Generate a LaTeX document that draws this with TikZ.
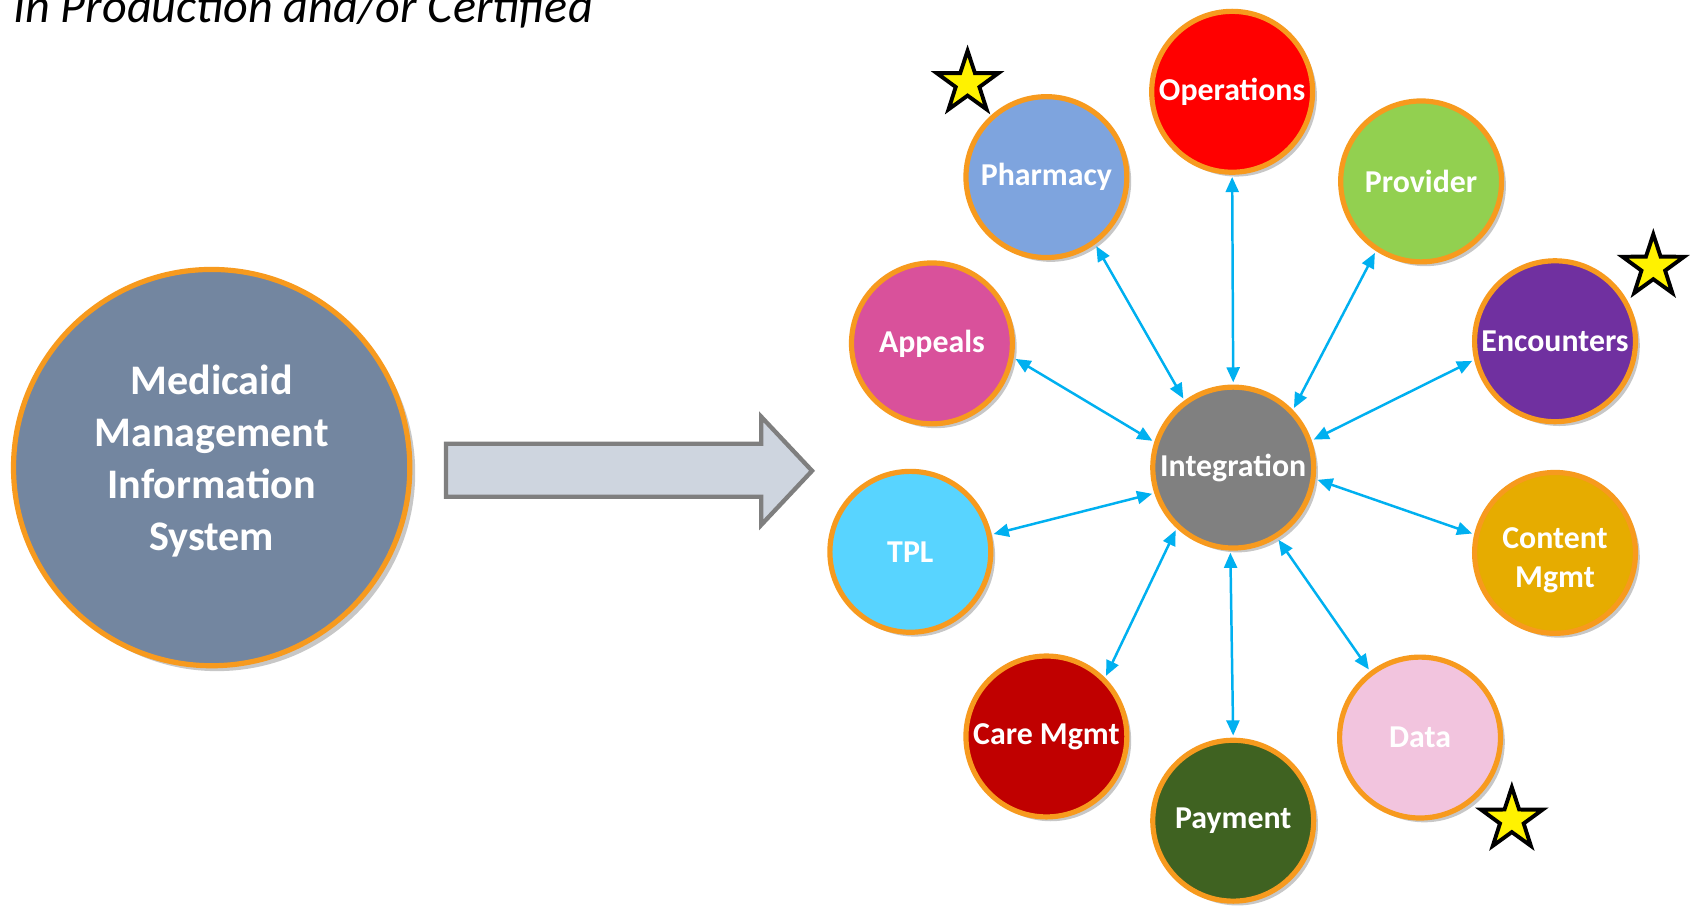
\documentclass[tikz,border=0pt]{standalone}
\usepackage{fontspec}
\setmainfont{Carlito}
\usetikzlibrary{arrows.meta,shapes.geometric,shadows}
\definecolor{ringc}{RGB}{247,154,30}
\definecolor{mmisc}{RGB}{115,134,160}
\definecolor{pharmc}{RGB}{126,164,222}
\definecolor{opsc}{RGB}{255,0,0}
\definecolor{provc}{RGB}{146,208,80}
\definecolor{appc}{RGB}{217,81,155}
\definecolor{encc}{RGB}{112,48,160}
\definecolor{intc}{RGB}{128,128,128}
\definecolor{tplc}{RGB}{88,212,255}
\definecolor{contc}{RGB}{230,172,0}
\definecolor{carec}{RGB}{192,0,0}
\definecolor{payc}{RGB}{63,98,33}
\definecolor{datac}{RGB}{242,196,222}
\definecolor{linkc}{RGB}{0,176,240}
\definecolor{bafill}{RGB}{206,213,223}
\definecolor{badraw}{RGB}{127,127,127}
\tikzset{
  satc/.style={circle, draw=ringc, line width=4.8pt, minimum size=149pt, inner sep=0pt,
    text=white, align=center, font=\bfseries\fontsize{29.5}{36}\selectfont,
    drop shadow={shadow xshift=4pt, shadow yshift=-4pt, opacity=0.22, fill=black}},
  sattext/.style={inner sep=0pt, text=white, align=center, font=\bfseries\fontsize{29.5}{36}\selectfont},
  bigc/.style={circle, draw=ringc, line width=4.8pt, minimum size=367pt, inner sep=0pt,
    fill=mmisc,
    drop shadow={shadow xshift=5pt, shadow yshift=-5pt, opacity=0.22, fill=black}},
  bigtext/.style={inner sep=0pt, text=white, align=center, font=\bfseries\fontsize{39}{48}\selectfont},
  link/.style={draw=linkc, line width=2.3pt,
    {Triangle[length=14pt,width=12pt]}-{Triangle[length=14pt,width=12pt]},
    shorten <=2pt, shorten >=2pt},
  starn/.style={star, star points=5, star point ratio=2.6, minimum size=60pt,
    inner sep=0pt, fill=yellow, draw=black, line width=3.6pt},
  blockarrow/.style={fill=bafill, draw=badraw, line width=4pt, line join=miter}
}
\begin{document}
\begin{tikzpicture}[x=1pt,y=-1pt]
\useasboundingbox (0,0) rectangle (1565,840);
\path[fill=white] (0,0) rectangle (1565,840);

\node[anchor=base west, inner sep=0pt, font=\itshape\fontsize{44.6}{50}\selectfont] (title) at (12,21) {In Production and/or Certified};

\node[bigc] (mmis) at (196,433) {};
\node[bigtext] (mmistext) at (196,427) {Medicaid\\Management\\Information\\System};

\path[blockarrow] (413,411) -- (705,411) -- (705,386) -- (752,436) -- (705,486) -- (705,460) -- (413,460) -- cycle;

\node[satc, fill=pharmc] (pharm) at (969,164) {Pharmacy};
\node[satc, fill=opsc]   (ops)   at (1141,85) {Operations};
\node[satc, fill=provc]  (prov)  at (1316,168) {Provider};
\node[satc, fill=appc]   (app)   at (863,318) {Appeals};
\node[satc, fill=encc]   (enc)   at (1440,316) {Encounters};
\node[satc, fill=intc]   (integ) at (1142,433) {Integration};
\node[satc, fill=tplc]   (tpl)   at (843,511) {TPL};
\node[satc, fill=contc]  (cont)  at (1440,512) {};
\node[sattext]           (conttext) at (1440,519) {Content\\Mgmt};
\node[satc, fill=carec]  (care)  at (969,682) {Care Mgmt};
\node[satc, fill=payc]   (pay)   at (1142,760) {Payment};
\node[satc, fill=datac]  (data)  at (1315,683) {Data};

\draw[link] (integ.90)    -- (ops.-90);
\draw[link] (integ.126)   -- (pharm.-54);
\draw[link] (integ.44.5)  -- (prov.-123);
\draw[link] (integ.162.7) -- (app.-10.5);
\draw[link] (integ.19.4)  -- (enc.-167);
\draw[link] (integ.198.2) -- (tpl.12.1);
\draw[link] (integ.-8)    -- (cont.167.5);
\draw[link] (integ.-133)  -- (care.45.5);
\draw[link] (integ.-92)   -- (pay.90);
\draw[link] (integ.-58.6) -- (data.127.9);

\node[starn] (star1) at (896,77) {};
\node[starn] (star2) at (1531,247) {};
\node[starn] (star3) at (1400,759) {};
\end{tikzpicture}
\end{document}
